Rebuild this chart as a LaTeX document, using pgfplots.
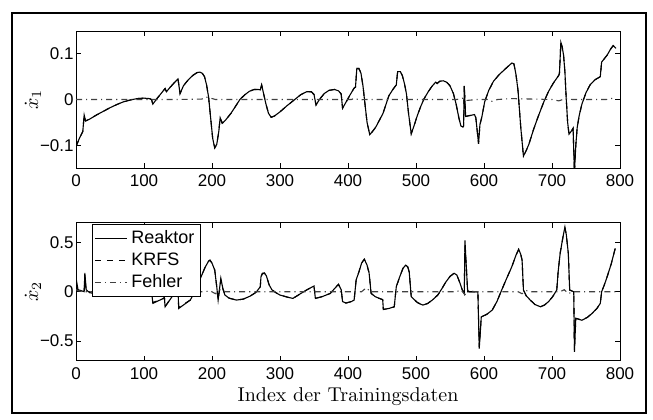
\documentclass[border=0pt]{standalone}
\usepackage{fontspec}
\setsansfont{Liberation Sans}
\usepackage{pgfplots}
\pgfplotsset{compat=1.18}
\begin{document}
\begin{tikzpicture}
\useasboundingbox (0,0) rectangle (326.5pt,-209.5pt);
\pgfplotsset{every axis/.append style={scale only axis,width=272pt,height=68.5pt,
xmin=0,xmax=800,xtick={0,100,...,800},tick align=inside,major tick length=2.5pt,
axis line style={line width=0.5pt},tick style={line width=0.4pt,black},
/pgf/number format/assume math mode=true,
tick label style={font=\sffamily\fontsize{8.5}{10}\selectfont},
yticklabel style={inner sep=0pt,xshift=-1pt},
label style={font=\fontsize{10}{12}\selectfont},
every axis y label/.style={at={(axis description cs:-0.079,0.5)},rotate=90,anchor=center},
every axis plot/.append style={line width=0.55pt}}}
% oben: dx1
\begin{axis}[at={(38pt,-15.5pt)},anchor=north west,ymin=-0.15,ymax=0.15,
ytick={-0.1,0,0.1},yticklabels={−0.1,0,0.1},ylabel={$\dot{x}_1$}]
\addplot[black] coordinates {(0,-0.103) (5,-0.085) (10,-0.070) (12,-0.034) (14,-0.047) (20,-0.043) (30,-0.034) (40,-0.026) (50,-0.018) (60,-0.011) (70,-0.005) (80,-0.001) (90,0.002) (100,0.003) (108,0.002) (111,0.000) (113,-0.010) (118,0.000) (125,0.013) (131,0.024) (133,0.017) (138,0.026) (144,0.036) (150,0.045) (153,0.013) (158,0.030) (165,0.043) (172,0.053) (178,0.059) (182,0.060) (186,0.057) (189,0.050) (192,0.032) (195,0.005) (198,-0.040) (201,-0.085) (204,-0.106) (207,-0.098) (210,-0.070) (212,-0.040) (215,-0.052) (220,-0.045) (228,-0.030) (235,-0.014) (241,0.000) (248,0.010) (255,0.018) (262,0.022) (268,0.022) (271,0.021) (273,0.032) (276,0.012) (279,-0.008) (283,-0.030) (287,-0.039) (292,-0.036) (300,-0.027) (310,-0.014) (320,-0.002) (330,0.010) (339,0.017) (346,0.017) (350,0.011) (353,-0.012) (358,0.000) (365,0.013) (372,0.020) (380,0.022) (386,0.019) (390,0.012) (392,-0.019) (397,-0.006) (403,0.010) (409,0.025) (411,0.027) (413,0.068) (416,0.068) (419,0.058) (422,0.030) (425,-0.010) (428,-0.050) (432,-0.077) (436,-0.070) (441,-0.060) (447,-0.043) (451,-0.032) (452,-0.028) (456,-0.010) (460,0.008) (466,0.022) (471,0.032) (473,0.061) (477,0.061) (480,0.052) (483,0.035) (486,0.012) (489,-0.030) (493,-0.075) (497,-0.058) (502,-0.035) (507,-0.015) (512,0.002) (518,0.017) (524,0.030) (529,0.038) (531,0.035) (535,0.040) (540,0.041) (545,0.038) (550,0.030) (555,0.013) (559,-0.010) (563,-0.040) (566,-0.058) (569,-0.060) (570,-0.058) (571,0.030) (573,-0.037) (586,-0.033) (588,-0.040) (592,-0.097) (594,-0.055) (597,-0.037) (601,-0.005) (607,0.020) (614,0.040) (622,0.054) (632,0.068) (641,0.080) (644,0.078) (647,0.055) (650,0.020) (654,-0.060) (658,-0.124) (662,-0.112) (666,-0.098) (673,-0.065) (680,-0.036) (688,-0.005) (695,0.018) (702,0.036) (710,0.053) (711,0.058) (713,0.125) (715,0.115) (717,0.097) (719,0.060) (721,0.000) (723,-0.050) (725,-0.076) (729,-0.068) (731,-0.063) (733,-0.160) (735,-0.100) (737,-0.062) (740,-0.035) (744,-0.010) (750,0.015) (756,0.032) (763,0.043) (771,0.050) (773,0.082) (781,0.097) (786,0.110) (790,0.118) (794,0.112)};
\addplot[black,dashed] coordinates {(0,-0.103) (5,-0.085) (10,-0.070) (12,-0.034) (14,-0.047) (20,-0.043) (30,-0.034) (40,-0.026) (50,-0.018) (60,-0.011) (70,-0.005) (80,-0.001) (90,0.002) (100,0.003) (108,0.002) (111,0.000) (113,-0.010) (118,0.000) (125,0.013) (131,0.024) (133,0.017) (138,0.026) (144,0.036) (150,0.045) (153,0.013) (158,0.030) (165,0.043) (172,0.053) (178,0.059) (182,0.060) (186,0.057) (189,0.050) (192,0.032) (195,0.005) (198,-0.040) (201,-0.085) (204,-0.106) (207,-0.098) (210,-0.070) (212,-0.040) (215,-0.052) (220,-0.045) (228,-0.030) (235,-0.014) (241,0.000) (248,0.010) (255,0.018) (262,0.022) (268,0.022) (271,0.021) (273,0.032) (276,0.012) (279,-0.008) (283,-0.030) (287,-0.039) (292,-0.036) (300,-0.027) (310,-0.014) (320,-0.002) (330,0.010) (339,0.017) (346,0.017) (350,0.011) (353,-0.012) (358,0.000) (365,0.013) (372,0.020) (380,0.022) (386,0.019) (390,0.012) (392,-0.019) (397,-0.006) (403,0.010) (409,0.025) (411,0.027) (413,0.068) (416,0.068) (419,0.058) (422,0.030) (425,-0.010) (428,-0.050) (432,-0.077) (436,-0.070) (441,-0.060) (447,-0.043) (451,-0.032) (452,-0.028) (456,-0.010) (460,0.008) (466,0.022) (471,0.032) (473,0.061) (477,0.061) (480,0.052) (483,0.035) (486,0.012) (489,-0.030) (493,-0.075) (497,-0.058) (502,-0.035) (507,-0.015) (512,0.002) (518,0.017) (524,0.030) (529,0.038) (531,0.035) (535,0.040) (540,0.041) (545,0.038) (550,0.030) (555,0.013) (559,-0.010) (563,-0.040) (566,-0.058) (569,-0.060) (570,-0.058) (571,0.030) (573,-0.037) (586,-0.033) (588,-0.040) (592,-0.097) (594,-0.055) (597,-0.037) (601,-0.005) (607,0.020) (614,0.040) (622,0.054) (632,0.068) (641,0.080) (644,0.078) (647,0.055) (650,0.020) (654,-0.060) (658,-0.124) (662,-0.112) (666,-0.098) (673,-0.065) (680,-0.036) (688,-0.005) (695,0.018) (702,0.036) (710,0.053) (711,0.058) (713,0.125) (715,0.115) (717,0.097) (719,0.060) (721,0.000) (723,-0.050) (725,-0.076) (729,-0.068) (731,-0.063) (733,-0.160) (735,-0.100) (737,-0.062) (740,-0.035) (744,-0.010) (750,0.015) (756,0.032) (763,0.043) (771,0.050) (773,0.082) (781,0.097) (786,0.110) (790,0.118) (794,0.112)};
\addplot[black!75,dash dot] coordinates {(0,0) (150,0) (185,0.001) (192,0.005) (198,0.003) (205,0) (405,0) (410,0.003) (416,-0.001) (425,0) (560,0) (568,0.003) (575,-0.002) (590,0) (605,0) (612,-0.004) (620,0) (640,0.002) (700,0) (710,-0.003) (720,0.002) (730,0) (780,0) (790,0.003) (794,0.002)};
\end{axis}
% unten: dx2
\begin{axis}[at={(38pt,-111.35pt)},anchor=north west,height=69pt,ymin=-0.7,ymax=0.7,
ytick={-0.5,0,0.5},yticklabels={−0.5,0,0.5},ylabel={$\dot{x}_2$},
xlabel={Index der Trainingsdaten},xlabel style={yshift=3pt},
legend style={at={(0.029,0.99)},anchor=north west,font=\sffamily\fontsize{9}{10.5}\selectfont,
draw=black,line width=0.5pt,inner sep=1pt,row sep=-1pt},legend cell align=left,
legend image code/.code={\draw[#1] (0pt,0pt) -- (16pt,0pt);}]
\addplot[black] coordinates {(0,0.08) (1,0.10) (3,0.02) (8,0.01) (12,0.0) (13,0.19) (15,0.02) (20,-0.01) (26,-0.017) (40,-0.022) (56,-0.024) (75,-0.012) (95,0.0) (111,0.01) (113,-0.118) (128,-0.07) (130,-0.06) (131,-0.153) (148,0.017) (150,0.03) (151,-0.17) (168,-0.085) (175,0.0) (182,0.12) (190,0.25) (195,0.31) (197,0.32) (200,0.29) (204,0.22) (207,0.05) (209,-0.085) (213,0.136) (216,0.03) (219,-0.034) (225,-0.065) (236,-0.085) (246,-0.075) (256,-0.045) (265,-0.005) (271,0.05) (272,0.15) (274,0.187) (277,0.19) (280,0.16) (284,0.07) (288,0.02) (294,-0.01) (300,-0.034) (312,-0.057) (319,-0.068) (329,-0.025) (339,0.017) (350,0.058) (352,-0.068) (362,-0.05) (374,-0.017) (380,0.03) (386,0.075) (390,0.02) (392,-0.10) (397,-0.115) (405,-0.10) (409,-0.085) (412,0.12) (416,0.20) (420,0.29) (424,0.33) (428,0.27) (431,0.19) (434,-0.017) (440,-0.05) (446,-0.068) (451,-0.08) (452,-0.18) (460,-0.17) (468,-0.153) (471,0.05) (476,0.15) (481,0.24) (485,0.27) (488,0.25) (490,0.20) (493,-0.05) (502,-0.11) (510,-0.136) (517,-0.12) (524,-0.085) (532,-0.034) (538,0.03) (544,0.10) (550,0.155) (556,0.187) (560,0.17) (564,0.10) (568,0.02) (571,-0.02) (572,0.52) (574,0.25) (576,0.0) (591,0.0) (593,-0.578) (596,-0.255) (604,-0.23) (612,-0.187) (619,-0.10) (626,0.017) (633,0.13) (641,0.255) (647,0.37) (651,0.43) (654,0.38) (656,0.32) (658,0.017) (662,-0.04) (668,-0.085) (675,-0.13) (683,-0.153) (689,-0.135) (695,-0.10) (701,-0.05) (707,0.017) (709,0.2) (712,0.39) (716,0.55) (719,0.657) (721,0.58) (724,0.39) (726,0.017) (732,0.0) (733,-0.61) (735,-0.27) (740,-0.28) (744,-0.29) (752,-0.26) (759,-0.22) (766,-0.17) (771,-0.118) (773,0.0) (777,0.07) (781,0.15) (787,0.28) (793,0.44)};
\addlegendentry{Reaktor}
\addplot[black,dashed] coordinates {(0,0.06) (3,0.01) (12,0.0) (13,0.17) (15,0.0) (40,-0.005) (95,0.0) (111,0.005) (113,-0.11) (128,-0.07) (130,-0.06) (131,-0.15) (148,0.017) (150,0.03) (151,-0.16) (168,-0.085) (175,0.0) (182,0.12) (190,0.25) (195,0.31) (197,0.32) (200,0.29) (204,0.22) (207,0.05) (209,-0.085) (213,0.12) (216,0.03) (219,-0.034) (225,-0.065) (236,-0.085) (246,-0.075) (256,-0.045) (265,-0.005) (271,0.05) (272,0.15) (274,0.18) (277,0.19) (280,0.16) (284,0.07) (288,0.02) (294,-0.01) (300,-0.034) (312,-0.057) (319,-0.068) (329,-0.025) (339,0.017) (350,0.058) (352,-0.068) (362,-0.05) (374,-0.017) (380,0.03) (386,0.075) (390,0.02) (392,-0.10) (397,-0.115) (405,-0.10) (409,-0.085) (412,0.12) (416,0.20) (420,0.29) (424,0.33) (428,0.27) (431,0.19) (434,-0.017) (440,-0.05) (446,-0.068) (451,-0.08) (452,-0.18) (460,-0.17) (468,-0.153) (471,0.05) (476,0.15) (481,0.24) (485,0.27) (488,0.25) (490,0.20) (493,-0.05) (502,-0.11) (510,-0.136) (517,-0.12) (524,-0.085) (532,-0.034) (538,0.03) (544,0.10) (550,0.155) (556,0.187) (560,0.17) (564,0.10) (568,0.02) (571,-0.02) (572,0.50) (574,0.25) (576,0.0) (591,0.0) (593,-0.56) (596,-0.255) (604,-0.23) (612,-0.187) (619,-0.10) (626,0.017) (633,0.13) (641,0.255) (647,0.37) (651,0.43) (654,0.38) (656,0.32) (658,0.017) (662,-0.04) (668,-0.085) (675,-0.13) (683,-0.153) (689,-0.135) (695,-0.10) (701,-0.05) (707,0.017) (709,0.2) (712,0.39) (716,0.55) (719,0.64) (721,0.58) (724,0.39) (726,0.017) (732,0.0) (733,-0.59) (735,-0.27) (740,-0.28) (744,-0.29) (752,-0.26) (759,-0.22) (766,-0.17) (771,-0.118) (773,0.0) (777,0.07) (781,0.15) (787,0.28) (793,0.44)};
\addlegendentry{KRFS}
\addplot[black!75,dash dot] coordinates {(0,0.02) (3,0.01) (10,0) (190,0) (197,0.01) (205,-0.02) (212,0.02) (220,0) (420,0) (427,0.04) (433,0) (560,0) (566,0.02) (572,-0.03) (578,0.02) (585,0) (650,0) (656,-0.02) (663,0.01) (670,0) (712,0) (718,0.02) (724,-0.02) (730,0) (794,0)};
\addlegendentry{Fehler}
\end{axis}
\draw[line width=1.3pt] (6pt,-6.5pt) rectangle (323pt,-206.5pt);
\end{tikzpicture}
\end{document}
